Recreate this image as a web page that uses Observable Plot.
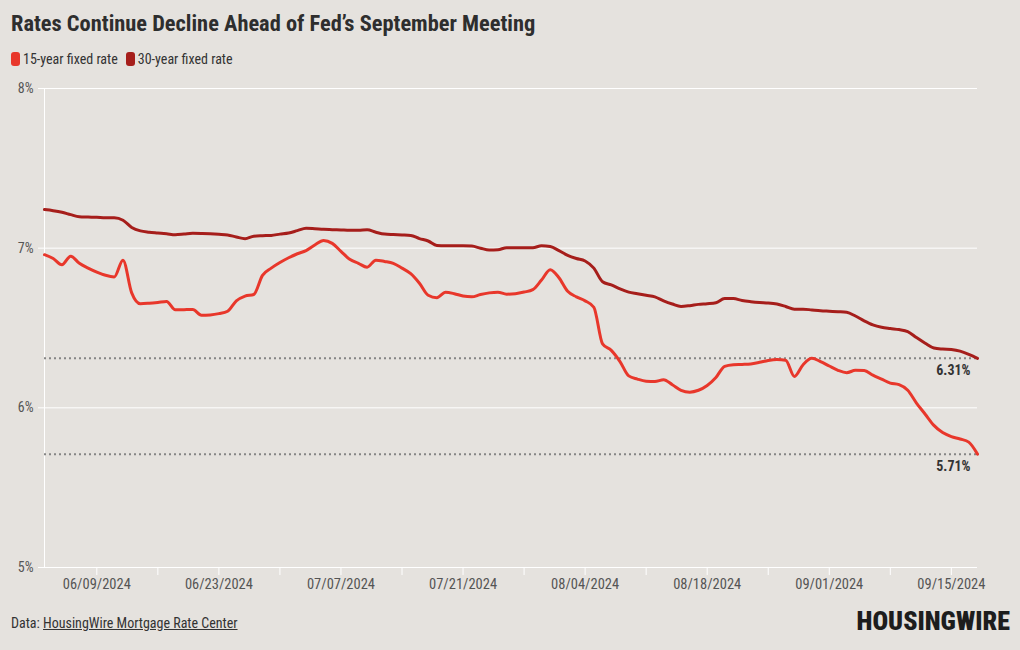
<!DOCTYPE html>
<html>
<head>
<meta charset="utf-8">
<script src="https://cdn.jsdelivr.net/npm/d3@7"></script>
<script src="https://cdn.jsdelivr.net/npm/@observablehq/plot@0.6"></script>
<style>
  html, body { margin: 0; padding: 0; background: #e5e2de; }
  body { width: 1020px; height: 650px; position: relative; overflow: hidden;
         font-family: Roboto, sans-serif; font-stretch: 75%; color: #333; }
  #title { position: absolute; left: 11px; top: 12px; font-size: 22.4px; line-height: 23px; font-weight: bold; color: #2e2e2e; white-space: nowrap; }
  #legend { position: absolute; left: 11px; top: 51px; font-size: 14px; line-height: 16px; color: #333; display: flex; align-items: center; white-space: nowrap; }
  .sw { display: inline-block; width: 9px; height: 14px; border-radius: 3px; margin-right: 3px; }
  .item { display: inline-flex; align-items: center; margin-right: 8px; }
  #chart { position: absolute; left: 0; top: 78px; }
  #footer { position: absolute; left: 11px; top: 615px; font-size: 14px; line-height: 17px; color: #333; white-space: nowrap; }
  #footer u { text-decoration: underline; }
  #logo { position: absolute; right: 10px; top: 608px; font-size: 26px; line-height: 26px; font-weight: 900; color: #1d1d1d; white-space: nowrap; }
</style>
</head>
<body>
<div id="title">Rates Continue Decline Ahead of Fed’s September Meeting</div>
<div id="legend"></div>
<div id="chart"></div>
<div id="footer">Data: <u>HousingWire Mortgage Rate Center</u></div>
<div id="logo">HOUSINGWIRE</div>
<script>
// ---- data ----
const startDate = "2024-06-03";
const seriesNames = ["15-year fixed rate", "30-year fixed rate"];
const seriesColors = ["#e8372b", "#a61e1b"];
const rate15 = [6.959,6.935,6.896,6.95,6.905,6.875,6.85,6.83,6.82,6.925,
  6.72,6.652,6.655,6.66,6.666,6.614,6.615,6.616,6.58,6.582,
  6.59,6.605,6.67,6.7,6.71,6.83,6.875,6.91,6.94,6.965,
  6.985,7.02,7.048,7.03,6.98,6.93,6.905,6.881,6.925,6.917,
  6.905,6.875,6.84,6.78,6.705,6.69,6.724,6.715,6.70,6.695,
  6.71,6.72,6.724,6.712,6.715,6.725,6.74,6.80,6.865,6.815,
  6.73,6.695,6.67,6.63,6.40,6.36,6.29,6.20,6.18,6.167,
  6.165,6.176,6.145,6.11,6.098,6.11,6.14,6.19,6.26,6.27,
  6.272,6.275,6.285,6.297,6.303,6.298,6.197,6.27,6.31,6.29,
  6.262,6.235,6.22,6.235,6.234,6.205,6.18,6.155,6.145,6.11,
  6.03,5.96,5.89,5.845,5.82,5.805,5.785,5.71];
const rate30 = [7.242,7.235,7.225,7.21,7.197,7.195,7.193,7.19,7.19,7.175,
  7.13,7.108,7.10,7.095,7.09,7.084,7.088,7.093,7.092,7.09,
  7.087,7.083,7.07,7.059,7.075,7.078,7.08,7.088,7.095,7.11,
  7.125,7.122,7.118,7.116,7.114,7.112,7.112,7.115,7.10,7.088,
  7.085,7.083,7.08,7.06,7.045,7.017,7.015,7.015,7.015,7.013,
  7.00,6.988,6.99,7.003,7.003,7.003,7.003,7.015,7.01,6.985,
  6.955,6.935,6.92,6.875,6.79,6.77,6.745,6.725,6.715,6.705,
  6.695,6.67,6.65,6.635,6.64,6.648,6.652,6.658,6.685,6.684,
  6.672,6.665,6.66,6.657,6.65,6.635,6.618,6.618,6.613,6.608,
  6.605,6.602,6.598,6.575,6.545,6.52,6.505,6.497,6.49,6.478,
  6.44,6.405,6.375,6.368,6.365,6.355,6.335,6.31];
const yTicks = [5, 6, 7, 8];
const xTickDates = ["2024-06-09","2024-06-16","2024-06-23","2024-06-30","2024-07-07","2024-07-14","2024-07-21","2024-07-28","2024-08-04","2024-08-11","2024-08-18","2024-08-25","2024-09-01","2024-09-08","2024-09-15"];
const xLabelDates = ["2024-06-09","2024-06-23","2024-07-07","2024-07-21","2024-08-04","2024-08-18","2024-09-01","2024-09-15"];
const refValues = [6.31, 5.71];

// ---- build ----
const parse = d3.utcParse("%Y-%m-%d");
const t0 = parse(startDate);
const data = [];
[rate15, rate30].forEach((arr, s) => arr.forEach((v, i) => data.push({date: d3.utcDay.offset(t0, i), value: v, series: seriesNames[s]})));
const tEnd = d3.utcDay.offset(t0, rate15.length - 1);
const labelSet = new Set(xLabelDates);
const fmt = d3.utcFormat("%m/%d/%Y");
const fmtKey = d3.utcFormat("%Y-%m-%d");

const legend = document.getElementById("legend");
seriesNames.forEach((n, i) => {
  const it = document.createElement("span"); it.className = "item";
  it.innerHTML = `<span class="sw" style="background:${seriesColors[i]}"></span>${n}`;
  legend.appendChild(it);
});

const chart = Plot.plot({
  width: 1020, height: 519,
  marginLeft: 44, marginRight: 43, marginTop: 10, marginBottom: 30,
  style: {background: "transparent", fontFamily: "Roboto, sans-serif", fontStretch: "75%", fontSize: "14px", color: "#555", overflow: "visible"},
  x: {type: "utc", domain: [t0, tEnd]},
  y: {domain: [5, 8]},
  color: {domain: seriesNames, range: seriesColors},
  marks: [
    Plot.ruleY(yTicks, {stroke: "#ffffff", strokeWidth: 1}),
    Plot.ruleX([t0], {stroke: "#ffffff", strokeWidth: 1}),
    Plot.axisY({ticks: yTicks, tickFormat: d => d + "%", tickSize: 6, tickPadding: 5, stroke: "#ffffff", fill: "#555", fontSize: 14, label: null}),
    Plot.axisX({ticks: xTickDates.map(parse), tickFormat: d => labelSet.has(fmtKey(d)) ? fmt(d) : "", tickSize: 8, tickPadding: 3, stroke: "#ffffff", fill: "#555", fontSize: 14.5, label: null}),
    Plot.ruleY(refValues, {stroke: "#858585", strokeWidth: 2, strokeDasharray: "2,3"}),
    Plot.line(data, {x: "date", y: "value", z: "series", stroke: "series", strokeWidth: 3, curve: "monotone-x"}),
    Plot.text(refValues, {x: () => tEnd, y: d => d, text: d => d.toFixed(2) + "%", textAnchor: "end", dx: -7, dy: 12, fontWeight: "bold", fontSize: 14, fill: "#333"})
  ]
});
document.getElementById("chart").appendChild(chart);
</script>
</body>
</html>
